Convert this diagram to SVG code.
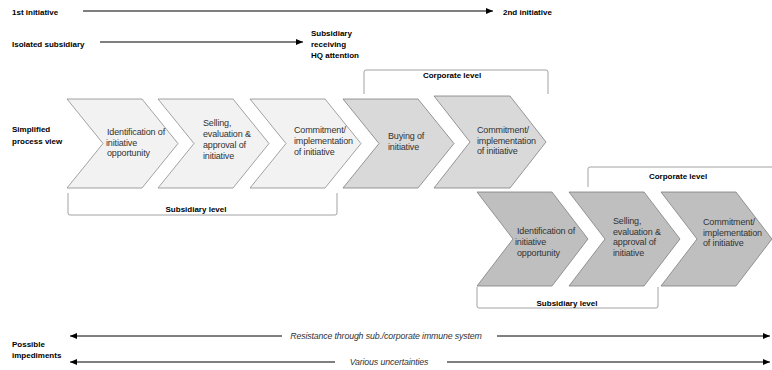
<svg xmlns="http://www.w3.org/2000/svg" width="772" height="370" viewBox="0 0 772 370">
<defs>
<marker id="ah" markerWidth="7" markerHeight="6" refX="7" refY="3" orient="auto-start-reverse" markerUnits="userSpaceOnUse">
<path d="M0,0 L7,3 L0,6 Z" fill="#000"/>
</marker>
<style>
.lbl{font-family:"Liberation Sans",Arial,sans-serif;font-size:8px;font-weight:bold;fill:#000}
.ct{font-family:"Liberation Sans",Arial,sans-serif;font-size:9px;fill:#333;letter-spacing:-0.15px}
.it{font-family:"Liberation Sans",Arial,sans-serif;font-size:8.8px;font-style:italic;fill:#333;letter-spacing:-0.15px}
.c1{fill:#f2f2f2;stroke:#8c8c8c;stroke-width:0.8}
.c2{fill:#d9d9d9;stroke:#7f7f7f;stroke-width:0.8}
.c3{fill:#bfbfbf;stroke:#7f7f7f;stroke-width:0.8}
.br{fill:none;stroke:#8c8c8c;stroke-width:0.8}
.ln{stroke:#000;stroke-width:1;fill:none}
</style>
</defs>

<g id="labels">
<text class="lbl" x="12" y="15">1st initiative</text>
<text class="lbl" x="503" y="15">2nd initiative</text>
<text class="lbl" x="12" y="47">Isolated subsidiary</text>
<text class="lbl" x="311" y="36">Subsidiary</text>
<text class="lbl" x="311" y="47">receiving</text>
<text class="lbl" x="311" y="58">HQ attention</text>
<text class="lbl" x="12" y="132">Simplified</text>
<text class="lbl" x="12" y="144">process view</text>
<text class="lbl" x="12" y="347">Possible</text>
<text class="lbl" x="12" y="358">impediments</text>
</g>

<g id="connectors">
<line x1="83" y1="11" x2="493" y2="11" stroke="#555" stroke-width="1.5" marker-end="url(#ah)"/>
<line class="ln" x1="100" y1="42" x2="303" y2="42" marker-end="url(#ah)"/>
<line class="ln" x1="70" y1="336" x2="282" y2="336" marker-start="url(#ah)"/>
<line class="ln" x1="497" y1="336" x2="770" y2="336" marker-end="url(#ah)"/>
<line class="ln" x1="70" y1="362" x2="335" y2="362" marker-start="url(#ah)"/>
<line class="ln" x1="447" y1="362" x2="770" y2="362" marker-end="url(#ah)"/>
</g>
<text class="it" x="386" y="339" text-anchor="middle">Resistance through sub./corporate immune system</text>
<text class="it" x="389" y="365" text-anchor="middle">Various uncertainties</text>

<g id="brackets">
<path class="br" d="M68,193 V213 Q68,215 70,215 H335 Q337,215 337,213 V193"/>
<text class="lbl" x="196" y="212" text-anchor="middle">Subsidiary level</text>
<path class="br" d="M364,94 V72 Q364,70 366,70 H546 Q548,70 548,72 V94"/>
<text class="lbl" x="452" y="78" text-anchor="middle">Corporate level</text>
<path class="br" d="M588,187 V169 Q588,167 590,167 H772"/>
<text class="lbl" x="678" y="179" text-anchor="middle">Corporate level</text>
<path class="br" d="M477,287 V306 Q477,308 479,308 H656 Q658,308 658,306 V287"/>
<text class="lbl" x="567" y="306" text-anchor="middle">Subsidiary level</text>
</g>

<g id="n1">
<path class="c1" d="M67,99 L142,99 L178,143.5 L142,188 L67,188 L103,143.5Z"/>
<text class="ct" x="107" y="135">Identification of</text>
<text class="ct" x="106" y="145.5">initiative</text>
<text class="ct" x="107" y="156">opportunity</text>
</g>
<g id="n2">
<path class="c1" d="M158,99 L233,99 L269,143.5 L233,188 L158,188 L194,143.5Z"/>
<text class="ct" x="203" y="126">Selling,</text>
<text class="ct" x="203" y="137">evaluation &amp;</text>
<text class="ct" x="203" y="148">approval of</text>
<text class="ct" x="203" y="159">initiative</text>
</g>
<g id="n3">
<path class="c1" d="M250,99 L325,99 L361,143.5 L325,188 L250,188 L286,143.5Z"/>
<text class="ct" x="294" y="133">Commitment/</text>
<text class="ct" x="294" y="144">implementation</text>
<text class="ct" x="294" y="155">of initiative</text>
</g>
<g id="n4">
<path class="c2" d="M343,99 L418,99 L454,143.5 L418,188 L343,188 L379,143.5Z"/>
<text class="ct" x="388" y="139">Buying of</text>
<text class="ct" x="388" y="150">initiative</text>
</g>
<g id="n5">
<path class="c2" d="M434,96 L510,96 L546,142 L510,188 L434,188 L470,142Z"/>
<text class="ct" x="477" y="133">Commitment/</text>
<text class="ct" x="477" y="144">implementation</text>
<text class="ct" x="477" y="154">of initiative</text>
</g>
<g id="n6">
<path class="c3" d="M477,192 L552,192 L588,239 L552,286 L477,286 L513,239Z"/>
<text class="ct" x="517" y="234">Identification of</text>
<text class="ct" x="515" y="245">initiative</text>
<text class="ct" x="517" y="256">opportunity</text>
</g>
<g id="n7">
<path class="c3" d="M569,192 L644,192 L680,239 L644,286 L569,286 L605,239Z"/>
<text class="ct" x="613" y="224">Selling,</text>
<text class="ct" x="613" y="234.5">evaluation &amp;</text>
<text class="ct" x="613" y="245">approval of</text>
<text class="ct" x="613" y="256">initiative</text>
</g>
<g id="n8">
<path class="c3" d="M661,192 L736,192 L772,239 L736,286 L661,286 L697,239Z"/>
<text class="ct" x="703" y="225">Commitment/</text>
<text class="ct" x="703" y="236">implementation</text>
<text class="ct" x="703" y="246">of initiative</text>
</g>
</svg>
